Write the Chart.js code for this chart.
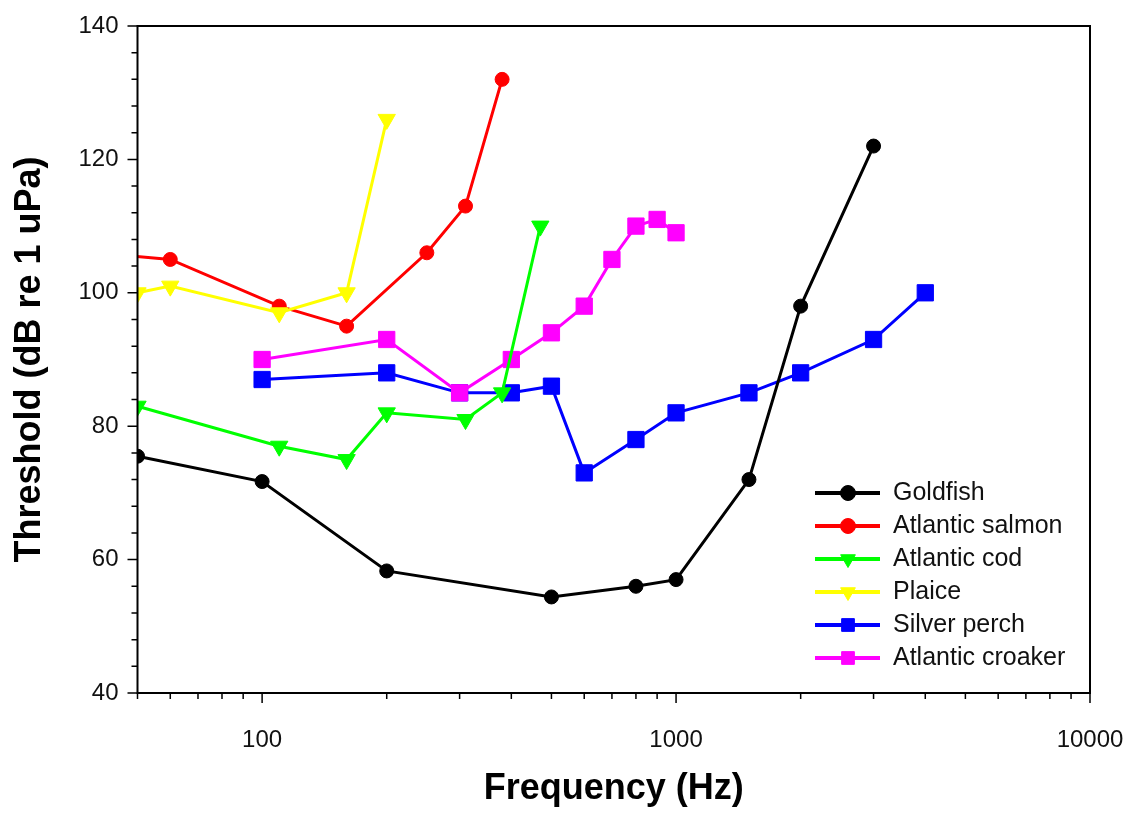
<!DOCTYPE html>
<html>
<head>
<meta charset="utf-8">
<title>Fish hearing thresholds</title>
<script src="https://cdn.jsdelivr.net/npm/chart.js@4.4.1/dist/chart.umd.min.js"></script>
<style>
  html, body { margin: 0; padding: 0; background: #fff; }
  #wrap { width: 1130px; height: 813px; }
</style>
</head>
<body>
<div id="wrap"><canvas id="chart"></canvas></div>
<script>
// audiogram values (Hz, dB re 1 uPa)
const goldfishHz = [50, 100, 200, 500, 800, 1000, 1500, 2000, 3000];
const goldfishDb = [75.5, 71.7, 58.3, 54.4, 56, 57, 72, 98, 122];
const salmonHz = [40, 60, 110, 160, 250, 310, 380];
const salmonDb = [106, 105, 98, 95, 106, 113, 132];
const codHz = [50, 110, 160, 200, 310, 380, 470];
const codDb = [83, 77, 75, 82, 81, 85, 110];
const plaiceHz = [50, 60, 110, 160, 200];
const plaiceDb = [100, 101, 97, 100, 126];
const perchHz = [100, 200, 300, 400, 500, 600, 800, 1000, 1500, 2000, 3000, 4000];
const perchDb = [87, 88, 85, 85, 86, 73, 78, 82, 85, 88, 93, 100];
const croakerHz = [100, 200, 300, 400, 500, 600, 700, 800, 900, 1000];
const croakerDb = [90, 93, 85, 90, 94, 98, 105, 110, 111, 109];

// axis ticks
const xTicks = [50, 60, 70, 80, 90, 100, 200, 300, 400, 500, 600, 700, 800, 900,
  1000, 2000, 3000, 4000, 5000, 6000, 7000, 8000, 9000, 10000];
const xLabels = [100, 1000, 10000];
const yTicks = [40, 44, 48, 52, 56, 60, 64, 68, 72, 76, 80, 84, 88, 92, 96, 100,
  104, 108, 112, 116, 120, 124, 128, 132, 136, 140];
const yLabels = [40, 60, 80, 100, 120, 140];

const FONT = "'Liberation Sans', Arial, sans-serif";

function pts(xs, ys) {
  return xs.map((x, i) => ({ x: x, y: ys[i] }));
}

function series(label, xs, ys, color, style, radius, order) {
  return {
    label: label,
    data: pts(xs, ys),
    borderColor: color,
    backgroundColor: color,
    borderWidth: 3,
    pointStyle: style,
    pointRadius: radius,
    pointHoverRadius: radius,
    pointRotation: style === 'triangle' ? 180 : 0,
    pointBorderWidth: 1,
    pointBackgroundColor: color,
    pointBorderColor: color,
    tension: 0,
    order: order
  };
}

// ticks, frame and the in-plot legend
const framePlugin = {
  id: 'framePlugin',
  afterDraw(chart) {
    const { ctx, chartArea: a, scales: { x, y } } = chart;
    ctx.save();
    ctx.strokeStyle = '#000';
    ctx.lineWidth = 2;
    ctx.strokeRect(a.left, a.top, a.right - a.left, a.bottom - a.top);

    ctx.lineWidth = 1.5;
    ctx.beginPath();
    xTicks.forEach(v => {
      const px = x.getPixelForValue(v);
      const len = xLabels.includes(v) ? 10 : 6;
      ctx.moveTo(px, a.bottom);
      ctx.lineTo(px, a.bottom + len);
    });
    yTicks.forEach(v => {
      const py = y.getPixelForValue(v);
      const len = yLabels.includes(v) ? 10 : 6;
      ctx.moveTo(a.left, py);
      ctx.lineTo(a.left - len, py);
    });
    ctx.stroke();

    // legend
    const lx = a.right - 275;
    const ty = a.bottom - 200;
    ctx.font = '25px ' + FONT;
    ctx.textBaseline = 'middle';
    ctx.textAlign = 'left';
    chart.data.datasets.forEach((ds, i) => {
      const cy = ty + i * 33;
      ctx.strokeStyle = ds.borderColor;
      ctx.fillStyle = ds.borderColor;
      ctx.lineWidth = 4;
      ctx.beginPath();
      ctx.moveTo(lx, cy);
      ctx.lineTo(lx + 65, cy);
      ctx.stroke();
      ctx.lineWidth = 1;
      let r = 7.5;
      if (ds.pointStyle === 'rect') r = 9;
      if (ds.pointStyle === 'triangle') r = 8.5;
      Chart.helpers.drawPoint(ctx, {
        pointStyle: ds.pointStyle,
        rotation: ds.pointRotation,
        radius: r,
        borderWidth: 1
      }, lx + 33, cy);
      ctx.fillStyle = '#111';
      ctx.fillText(ds.label, lx + 78, cy);
    });
    ctx.restore();
  }
};

new Chart(document.getElementById('chart'), {
  type: 'line',
  data: {
    datasets: [
      series('Goldfish', goldfishHz, goldfishDb, '#000000', 'circle', 7, 0),
      series('Atlantic salmon', salmonHz, salmonDb, '#ff0000', 'circle', 7, 4),
      series('Atlantic cod', codHz, codDb, '#00ff00', 'triangle', 10, 1),
      series('Plaice', plaiceHz, plaiceDb, '#ffff00', 'triangle', 10, 2),
      series('Silver perch', perchHz, perchDb, '#0000ff', 'rect', 11.5, 5),
      series('Atlantic croaker', croakerHz, croakerDb, '#ff00ff', 'rect', 11.5, 3)
    ]
  },
  options: {
    responsive: true,
    maintainAspectRatio: false,
    animation: false,
    layout: { padding: { left: 0, top: 26, right: 40, bottom: 0 } },
    plugins: {
      legend: { display: false },
      tooltip: { enabled: false }
    },
    scales: {
      x: {
        type: 'logarithmic',
        min: 50,
        max: 10000,
        afterBuildTicks: s => { s.ticks = xTicks.map(v => ({ value: v })); },
        afterFit: s => {
          s.height = 120;
          s.paddingLeft = 0;
          s.paddingRight = 0;
        },
        grid: { display: false, drawTicks: false },
        border: { display: false },
        ticks: {
          autoSkip: false,
          maxRotation: 0,
          minRotation: 0,
          padding: 33,
          color: '#111',
          font: { family: FONT, size: 24 },
          callback: v => xLabels.includes(v) ? String(v) : ''
        },
        title: {
          display: true,
          text: 'Frequency (Hz)',
          color: '#000',
          font: { family: FONT, size: 36, weight: 'bold' },
          padding: { top: 0, bottom: 2 }
        }
      },
      y: {
        type: 'linear',
        min: 40,
        max: 140,
        afterBuildTicks: s => { s.ticks = yTicks.map(v => ({ value: v })); },
        afterFit: s => {
          s.width = 137.5;
          s.paddingTop = 0;
          s.paddingBottom = 0;
        },
        grid: { display: false, drawTicks: false },
        border: { display: false },
        ticks: {
          autoSkip: false,
          padding: 19,
          color: '#111',
          font: { family: FONT, size: 24 },
          callback: v => yLabels.includes(v) ? String(v) : ''
        },
        title: {
          display: true,
          text: 'Threshold (dB re 1 uPa)',
          color: '#000',
          font: { family: FONT, size: 36, weight: 'bold' },
          padding: { top: 8, bottom: 0 }
        }
      }
    }
  },
  plugins: [framePlugin]
});
</script>
</body>
</html>
